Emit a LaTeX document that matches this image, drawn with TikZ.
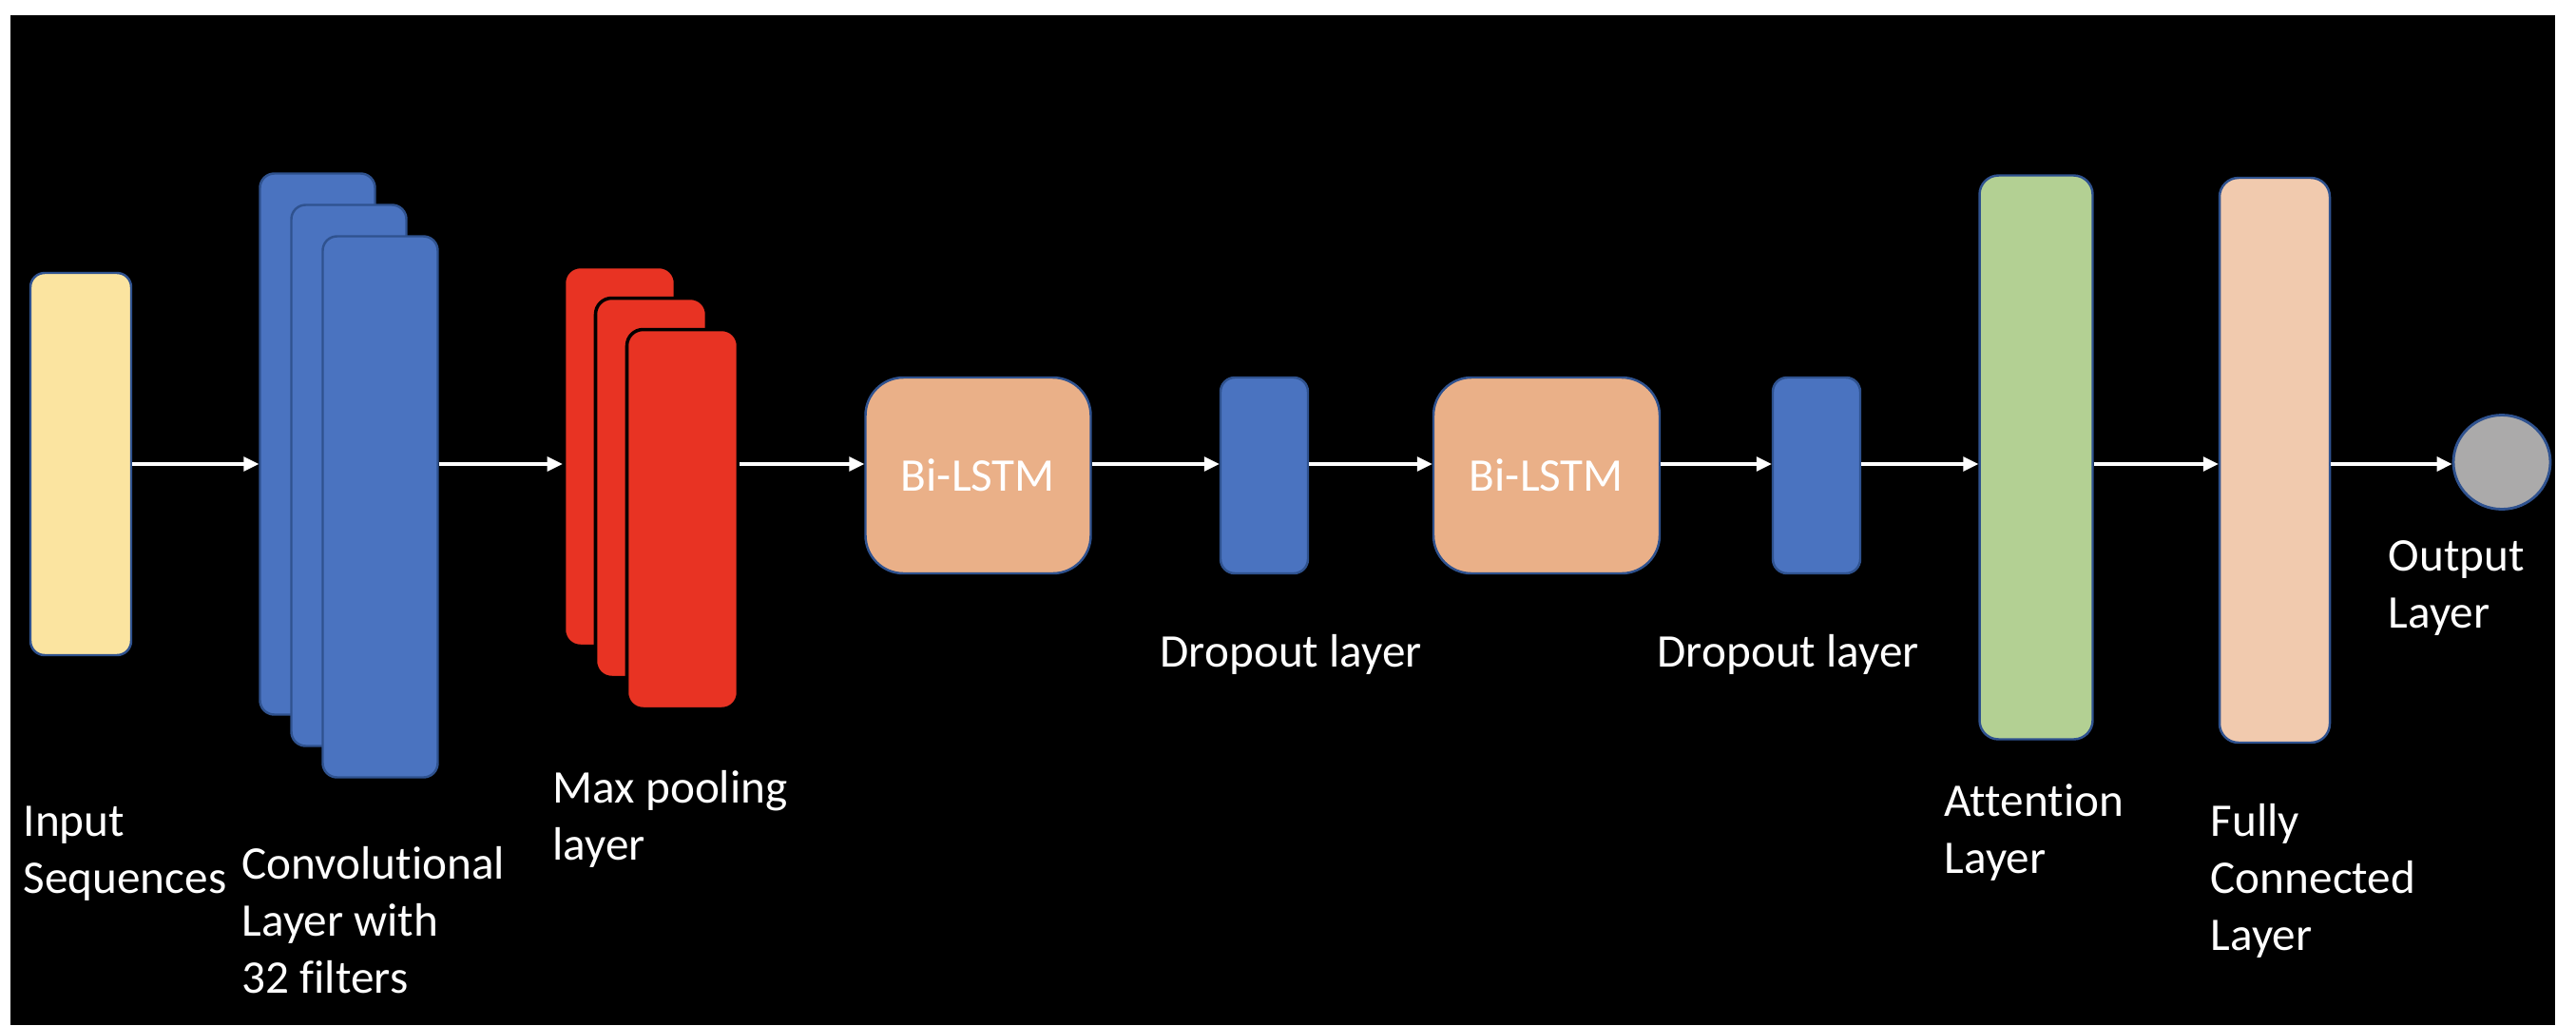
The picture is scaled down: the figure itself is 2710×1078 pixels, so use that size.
\documentclass[tikz,border=0pt]{standalone}
\usepackage{fontspec}
\setmainfont{Carlito}[Ligatures=NoCommon]
\usetikzlibrary{positioning,arrows.meta,shapes.geometric}
\definecolor{inyellow}{HTML}{FBE4A0}
\definecolor{convblue}{HTML}{4A73C0}
\definecolor{poolred}{HTML}{E83323}
\definecolor{lstmorange}{HTML}{EAB088}
\definecolor{attgreen}{HTML}{B3D093}
\definecolor{fcpeach}{HTML}{F1CAAE}
\definecolor{outgray}{HTML}{ABAAAA}
\definecolor{edgeblue}{HTML}{2F528F}
\tikzset{
  layer/.style={draw=edgeblue, line width=0.7pt, rounded corners=1.5mm, inner sep=0pt},
  lbl/.style={text=white, align=left, anchor=north west, inner sep=0pt,
    font=\fontsize{14pt}{17pt}\selectfont},
  >={Triangle[length=1.6mm,width=1.5mm]}
}

\begin{document}
\begin{tikzpicture}[x=0.1mm,y=-0.1mm]
% background
   \fill[white] (0,0) rectangle (2710,1078);
   \fill[black] (11,16) rectangle (2688,1078);
   \useasboundingbox (0,0) rectangle (2710,1078);
   \coordinate (axis) at (0,488);
% input
   \node[layer, fill=inyellow, minimum width=10.6mm, minimum height=40.2mm]
   (inp) at (85,488) {};
% convolutional layer, three stacked filters
   \foreach \k/\d in {A/0,B/33,C/66}
   \node[layer, fill=convblue, minimum width=12.1mm, minimum height=56.9mm]
   (conv\k) at (334+\d,467+\d) {};
% max pooling
   \foreach \k/\d in {A/0,B/33,C/66}
   \node[layer, draw=black, line width=1pt, rounded corners=1.7mm, fill=poolred,
   minimum width=11.7mm, minimum height=39.9mm] (pool\k) at (652+\d,480+\d) {};
% bi-lstm and dropout
   \node[layer, fill=lstmorange, rounded corners=4mm, minimum width=23.7mm,
   minimum height=20.6mm, text=white, font=\fontsize{14pt}{17pt}\selectfont]
   (lstm1) at (1029,500) {Bi-LSTM};
   \node[layer, fill=convblue, minimum width=9.2mm, minimum height=20.6mm]
   (drop1) at (1330,500) {};
   \node[layer, fill=lstmorange, rounded corners=4mm, minimum width=23.8mm,
   minimum height=20.6mm, text=white, font=\fontsize{14pt}{17pt}\selectfont]
   (lstm2) at (1627,500) {Bi-LSTM};
   \node[layer, fill=convblue, minimum width=9.2mm, minimum height=20.6mm]
   (drop2) at (1911,500) {};
% attention, fully connected, output
   \node[layer, fill=attgreen, rounded corners=2mm, minimum width=11.9mm,
   minimum height=59.3mm] (att) at (2142,481) {};
   \node[layer, fill=fcpeach, rounded corners=2mm, minimum width=11.6mm,
   minimum height=59.4mm] (fc) at (2393,484) {};
   \node[ellipse, draw=edgeblue, line width=0.8pt, fill=outgray, inner sep=0pt,
   minimum width=10.2mm, minimum height=9.9mm] (out) at (2632,486) {};
% arrows
   \foreach \a/\b in {inp/convA,convC/poolA,poolC/lstm1,lstm1/drop1,drop1/lstm2,
   lstm2/drop2,drop2/att,att/fc,fc/out}
   \draw[->, white, line width=0.9pt] (\a.east |- axis) -- (\b.west |- axis);
% labels
   \node[lbl] (inpL) at (24,847) {Input\\Sequences};
   \node[lbl] (convL) at (254,890) {Convolutional\\Layer with\\32 filters};
   \node[lbl] (poolL) at (581,810) {Max pooling\\layer};
   \node[lbl] (drop1L) at (1220,667) {Dropout layer};
   \node[lbl] (drop2L) at (1743,667) {Dropout layer};
   \node[lbl] (attL) at (2045,824) {Attention\\Layer};
   \node[lbl] (fcL) at (2325,845) {Fully\\Connected\\Layer};
   \node[lbl] (outL) at (2512,568) {Output\\Layer};
\end{tikzpicture}
\end{document}
